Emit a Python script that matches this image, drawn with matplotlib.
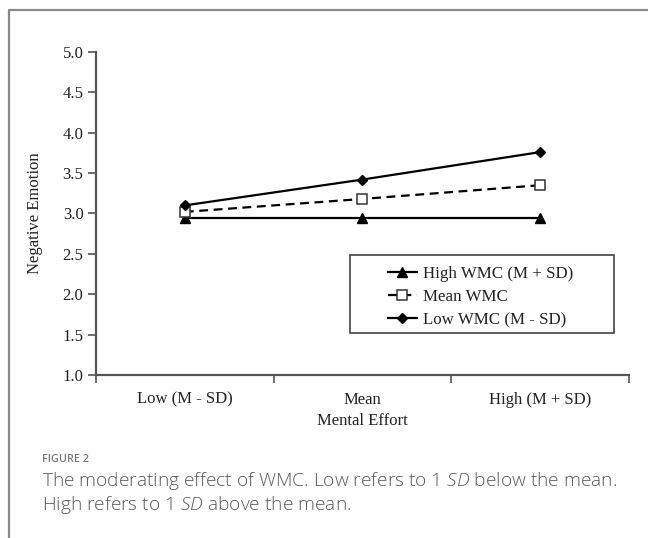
import matplotlib
matplotlib.use("Agg")
import matplotlib.pyplot as plt
from matplotlib.patches import Rectangle
from matplotlib.lines import Line2D

# Data
effort_levels = ["Low (M - SD)", "Mean", "High (M + SD)"]
high_wmc = [2.94, 2.94, 2.94]
mean_wmc = [3.02, 3.18, 3.35]
low_wmc = [3.10, 3.42, 3.76]
y_ticks = [1.0, 1.5, 2.0, 2.5, 3.0, 3.5, 4.0, 4.5, 5.0]

series_labels = ["High WMC (M + SD)", "Mean WMC", "Low WMC (M - SD)"]

caption_title = "FIGURE 2"
caption_lines = [
    r"The moderating effect of WMC. Low refers to 1 $\mathit{SD}$ below the mean.",
    r"High refers to 1 $\mathit{SD}$ above the mean.",
]


def main():
    plt.rcParams['font.family'] = ['Liberation Serif', 'DejaVu Serif']
    plt.rcParams['mathtext.fontset'] = 'custom'
    plt.rcParams['mathtext.it'] = 'Open Sans:italic:light'
    plt.rcParams['mathtext.rm'] = 'Open Sans:light'

    fig = plt.figure(figsize=(6.48, 5.38), dpi=100)
    ax = fig.add_axes([0.1481, 0.3030, 0.8225, 0.6004])

    spine_col = "#555555"
    x = [i + 0.5 for i in range(len(effort_levels))]

    # Plot the three moderator lines
    ax.plot(x, high_wmc, color="black", lw=1.6, marker="^", ms=7,
            clip_on=False, zorder=3)
    ax.plot(x, mean_wmc, color="black", lw=1.6, ls=(0, (4, 2.5)), marker="s",
            ms=7, mfc="white", mec="#333333", mew=1.1, clip_on=False, zorder=4)
    ax.plot(x, low_wmc, color="black", lw=1.6, marker="D", ms=5.5,
            clip_on=False, zorder=5)

    ax.set_xlim(0, len(effort_levels))
    ax.set_ylim(1.0, 5.0)

    # Axes styling
    for side in ["top", "right"]:
        ax.spines[side].set_visible(False)
    for side in ["left", "bottom"]:
        ax.spines[side].set_color(spine_col)
        ax.spines[side].set_linewidth(1.6)

    ax.set_yticks(y_ticks)
    ax.set_yticklabels([f"{v:.1f}" for v in y_ticks])
    ax.tick_params(axis="y", length=6, width=1.2, color=spine_col, pad=3,
                   labelsize=12, labelcolor="#222222")
    ax.set_xticks(range(len(effort_levels) + 1))
    ax.set_xticklabels([])
    ax.tick_params(axis="x", which="major", length=6, width=1.2,
                   color=spine_col)
    ax.set_xticks(x, minor=True)
    ax.set_xticklabels(effort_levels, minor=True)
    ax.tick_params(axis="x", which="minor", length=0, pad=12, labelsize=12,
                   labelcolor="#222222")

    ax.set_ylabel("Negative Emotion", fontsize=12, color="#222222")
    ax.yaxis.set_label_coords(-0.1, 0.5)
    ax.set_xlabel("Mental Effort", fontsize=12, color="#222222")
    ax.xaxis.set_label_coords(0.5, -0.117)

    # Legend with a hand-drawn frame
    ax.add_patch(Rectangle((0.477, 0.130), 0.495, 0.2415,
                           transform=ax.transAxes, fill=False,
                           ec="#444444", lw=1.2, clip_on=False))
    handles = [
        Line2D([], [], color="black", lw=1.6, marker="^", ms=7),
        Line2D([], [], color="black", lw=1.6, ls=(0, (4, 2.5)), marker="s",
               ms=7, mfc="white", mec="#333333", mew=1.1),
        Line2D([], [], color="black", lw=1.6, marker="D", ms=5.5),
    ]
    ax.legend(handles, series_labels, loc="upper left",
              bbox_to_anchor=(0.547, 0.337), frameon=False, fontsize=12.2,
              handlelength=1.75, handletextpad=0.35, labelspacing=0.42,
              borderpad=0, borderaxespad=0, labelcolor="#222222")

    # Panel border (top and left)
    fig.add_artist(Line2D([9 / 648, 9 / 648, 1.0],
                          [0.0, 1 - 10 / 538, 1 - 10 / 538],
                          color="#8a8a8a", lw=1.6))

    # Caption
    fig.text(42 / 648, 1 - 459 / 538, caption_title, family="Open Sans",
             fontsize=7.8, fontweight="semibold", color="#7a7a7a",
             va="center")
    for i, line in enumerate(caption_lines):
        fig.text(42 / 648, 1 - (481 + 24 * i) / 538, line,
                 family="Open Sans", fontweight="light", fontsize=13.75,
                 color="#5a5a5a", va="center")

    fig.savefig("out.png", dpi=100)


if __name__ == "__main__":
    main()
